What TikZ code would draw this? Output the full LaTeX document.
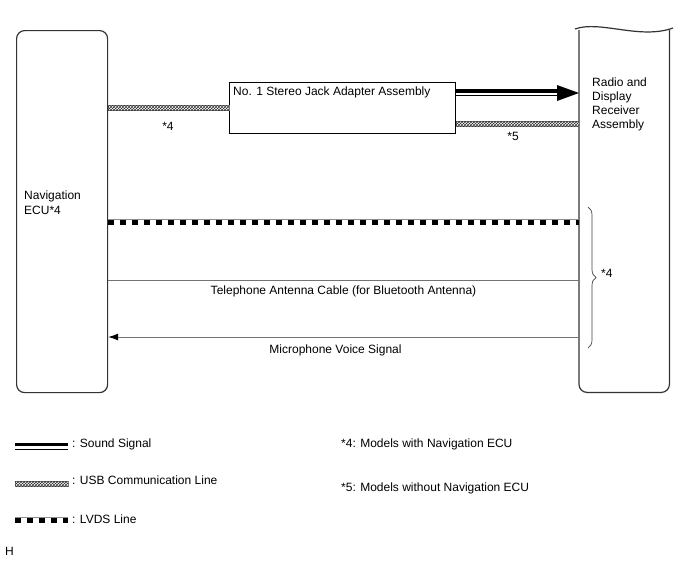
\documentclass[tikz,border=0pt]{standalone}
\usepackage{fontspec}
\setmainfont{Liberation Sans}
\usetikzlibrary{arrows.meta,patterns,decorations.pathreplacing}
\begin{document}
\begin{tikzpicture}[x=1pt,y=-1pt,
  font=\fontsize{12}{14}\selectfont,
  boxline/.style={draw=black!80, line width=1.2},
  txt/.style={inner sep=0, anchor=base west},
  ctxt/.style={inner sep=0, anchor=base},
  usb/.style={draw=black!50, line width=0.6, fill=white, postaction={pattern=crosshatch, pattern color=black!80}},
  lvdsbase/.style={line width=6.5, draw=black!45},
  thinline/.style={draw=black!55, line width=0.9}]
\useasboundingbox (0,0) rectangle (688,560);

% boxes
\node[boxline, rounded corners=8, minimum width=91, minimum height=362, anchor=north west, inner sep=0] (ecu) at (16,30) {};
\node[minimum width=90, minimum height=362, anchor=north west, inner sep=0] (radio) at (579,30) {};
\draw[boxline, rounded corners=8] (radio.north west) -- (radio.south west) -- (radio.south east) -- (radio.north east);
\draw[boxline] (575,29) .. controls (600,20) and (640,40) .. (673,28);
\node[draw=black, line width=1, minimum width=226, minimum height=51, anchor=north west, inner sep=0] (jack) at (229,82) {};

% texts in boxes
\node[txt] (ecutxt) at (24,199) {Navigation};
\node[txt] (ecutxt2) at (24,214) {ECU*4};
\node[txt] (jacktxt) at (233,95) {No. 1 Stereo Jack Adapter Assembly};
\node[txt] (r1) at (592,86) {Radio and};
\node[txt] (r2) at (592,100) {Display};
\node[txt] (r3) at (592,114) {Receiver};
\node[txt] (r4) at (592,128) {Assembly};

% USB line ECU -> jack
\draw[usb] ([yshift=2.5]ecu.east |- jack.west) rectangle ([yshift=-2.5]jack.west);
\node[ctxt] (l4a) at (168,130) {*4};

% sound signal jack -> radio
\coordinate (sndS) at ([yshift=15]jack.east);
\coordinate (sndE) at (radio.west |- sndS);
\draw[line width=4] ([yshift=2.5]sndS) -- ([yshift=2.5,xshift=-20]sndE);
\draw[line width=0.9] ([yshift=-2.5]sndS) -- ([yshift=-2.5,xshift=-20]sndE);
\fill (sndE) -- ++(-22,-8) -- ++(0,16) -- cycle;

% USB jack -> radio
\draw[usb] ([yshift=-13]jack.east) rectangle ([yshift=-18]jack.east -| radio.west);
\node[ctxt] (l5a) at (513,140) {*5};

% LVDS
\coordinate (lv) at (0,222);
\draw[lvdsbase] (ecu.east |- lv) -- (radio.west |- lv);
\draw[line width=5, white] (ecu.east |- lv) -- (radio.west |- lv);
\draw[line width=5, black, dash pattern=on 6 off 6] (ecu.east |- lv) -- (radio.west |- lv);

% telephone
\coordinate (ph) at (0,280);
\draw[thinline] (ecu.east |- ph) -- (radio.west |- ph);
\node[ctxt] (phtxt) at (343.5,294) {Telephone Antenna Cable (for Bluetooth Antenna)};

% microphone
\coordinate (mc) at (0,337);
\draw[thinline, -{Latex[black,length=10,width=7]}] (radio.west |- mc) -- (ecu.east |- mc);
\node[ctxt] (mctxt) at (335.5,353) {Microphone Voice Signal};

% brace
\draw[decorate, decoration={brace, amplitude=8}, black!75, line width=0.7] (588,207) -- (588,348);
\node[txt] (br4) at (601,277) {*4};

% legend
\draw[line width=3.5] (15,444.5) -- (68,444.5);
\draw[line width=0.9] (15,449.5) -- (68,449.5);
\node[txt] (lg1) at (72,447) {: Sound Signal};
\draw[usb] (15,481.5) rectangle (68,486.5);
\node[txt] (lg2) at (72,484) {: USB Communication Line};
\draw[lvdsbase] (15,520) -- (68,520);
\draw[line width=5, white] (15,520) -- (68,520);
\draw[line width=5, black, dash pattern=on 6 off 6] (15,520) -- (68,520);
\node[txt] (lg3) at (72,523) {: LVDS Line};
\node[txt] (n4) at (341,447) {*4: Models with Navigation ECU};
\node[txt] (n5) at (341,491) {*5: Models without Navigation ECU};
\node[txt] (hh) at (5,555) {H};
\end{tikzpicture}
\end{document}
